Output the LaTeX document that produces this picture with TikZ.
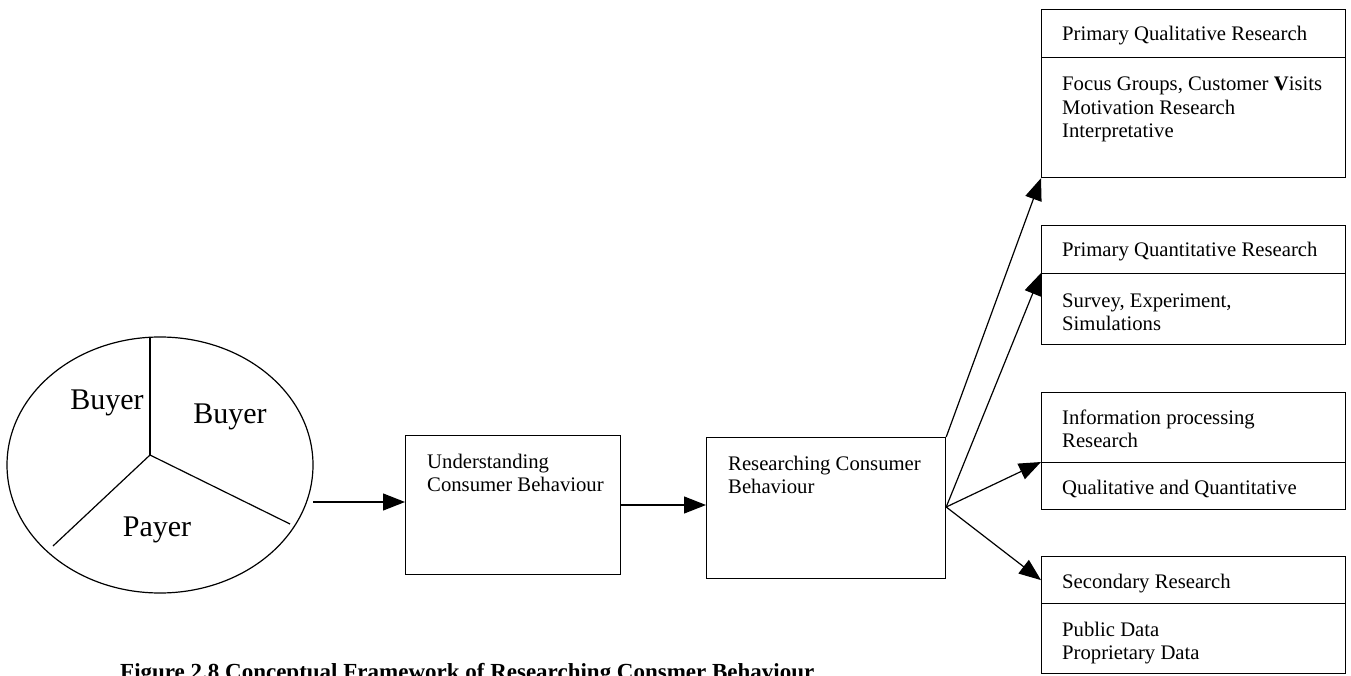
\documentclass[tikz,border=0pt]{standalone}
\usepackage{fontspec}
\setmainfont{Liberation Serif}
\usetikzlibrary{arrows.meta,shapes.geometric}
\begin{document}
\begin{tikzpicture}[x=1pt,y=-1pt,
  frame/.style={draw, line width=1.2pt, anchor=north west, inner sep=0pt, minimum width=304pt},
  stepbox/.style={draw, line width=1.2pt, anchor=north west, inner sep=0pt},
  flow/.style={line width=1.2pt, -{Triangle[length=22pt,width=17pt]}},
  % multi-line labels sit on the baseline of their last line
  lbl/.style={anchor=base west, inner sep=0pt, align=left, font=\fontsize{20.7}{23.5}\selectfont},
  role/.style={inner sep=0pt, font=\fontsize{30}{34}\selectfont},
  spoke/.style={line width=1.2pt},
]
\useasboundingbox (0,0) rectangle (1351,676);
\clip (0,0) rectangle (1351,676);

% the three roles
\node (roles) [ellipse, draw, line width=1.2pt, inner sep=0pt,
  minimum width=306pt, minimum height=256pt] at (160,465) {};
\coordinate (hub) at (150,455);
\coordinate (spokeT) at (150,337.5);
\coordinate (spokeL) at (53,546);
\coordinate (spokeR) at (290,524);
\draw[spoke] (hub) -- (spokeT);
\draw[spoke] (hub) -- (spokeL);
\draw[spoke] (hub) -- (spokeR);
\node (buyerA) [role] at (107,403) {Buyer};
\node (buyerB) [role] at (230,417) {Buyer};
\node (payer)  [role] at (157,530) {Payer};

% middle stages
\node (under) [stepbox, minimum width=215pt, minimum height=139pt] at (405,435) {};
\node (resea) [stepbox, minimum width=239pt, minimum height=141pt] at (706,437) {};
\node (underT) [lbl] at (427,491.5) {Understanding\\Consumer Behaviour};
\node (reseaT) [lbl] at (728,493.5) {Researching Consumer\\Behaviour};

% research types: header + body
\node (qlH) [frame, minimum height=48pt]  at (1041,9)   {};
\node (qlB) [frame, minimum height=120pt] at (1041,57)  {};
\node (qnH) [frame, minimum height=48pt]  at (1041,225) {};
\node (qnB) [frame, minimum height=71pt]  at (1041,273) {};
\node (ipH) [frame, minimum height=70pt]  at (1041,392) {};
\node (ipB) [frame, minimum height=47pt]  at (1041,462) {};
\node (sdH) [frame, minimum height=47pt]  at (1041,556) {};
\node (sdB) [frame, minimum height=70pt]  at (1041,603) {};

\node (qlHT) [lbl] at (1062,41)    {Primary Qualitative Research};
\node (qlBT) [lbl] at (1062,138)   {Focus Groups, Customer \textbf{V}isits\\Motivation Research\\Interpretative};
\node (qnHT) [lbl] at (1062,257)   {Primary Quantitative Research};
\node (qnBT) [lbl] at (1062,330.5) {Survey, Experiment,\\Simulations};
\node (ipHT) [lbl] at (1062,447.5) {Information processing\\Research};
\node (ipBT) [lbl] at (1062,494)   {Qualitative and Quantitative};
\node (sdHT) [lbl] at (1062,588)   {Secondary Research};
\node (sdBT) [lbl] at (1062,659.5) {Public Data\\Proprietary Data};

% connectors
\coordinate (src) at (313,502);
\draw[flow] (src) -- (under.west |- src);
\draw[flow] (under.east |- 0,505) -- (resea.west |- 0,505);
\coordinate (fan) at (resea.east |- 0,507);
\draw[flow] (resea.north east) -- (qlB.south west);
\draw[flow] (fan) -- (qnB.north west);
\draw[flow] (fan) -- (ipB.north west);
\draw[flow] (fan) -- (sdH.west);

% caption, running off the lower edge
\node (cap) [anchor=base west, inner sep=0pt, font=\bfseries\fontsize{23}{26}\selectfont]
  at (120,679) {Figure 2.8 Conceptual Framework of Researching Consmer Behaviour};
\end{tikzpicture}
\end{document}
